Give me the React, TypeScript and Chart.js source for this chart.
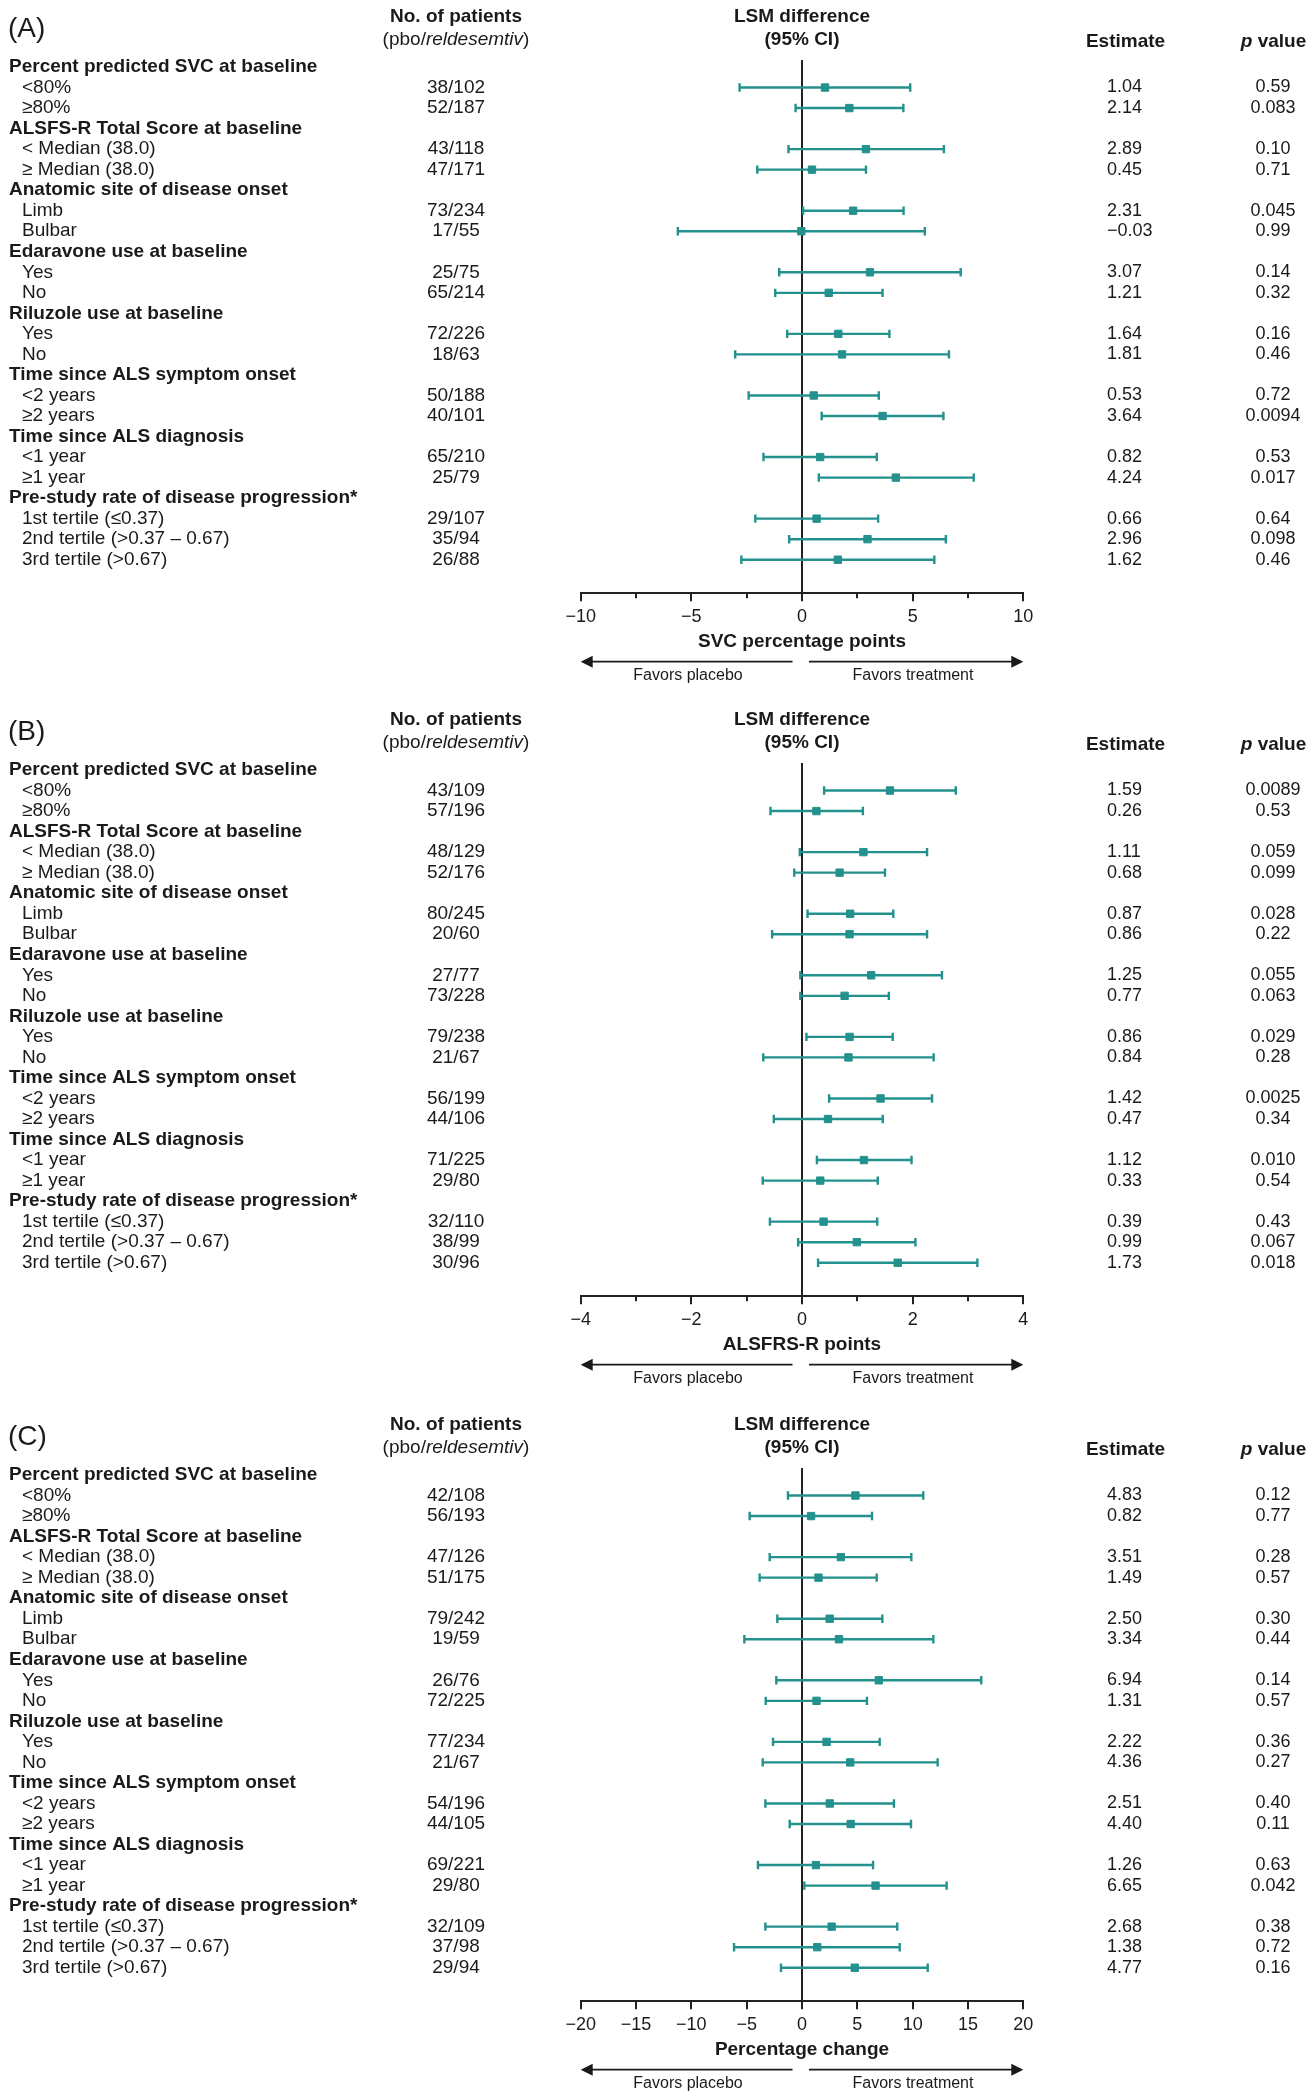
import React, { useEffect, useRef } from 'react';
import { Chart, registerables } from 'chart.js';

Chart.register(...registerables);

const FONT = "'Liberation Sans', Arial, Helvetica, sans-serif";
const TEXT = '#1a1a1a';
const TEAL = '#23918d';

// ---------- categories ----------
const groupTitles = [
  'Percent predicted SVC at baseline',
  'ALSFS-R Total Score at baseline',
  'Anatomic site of disease onset',
  'Edaravone use at baseline',
  'Riluzole use at baseline',
  'Time since ALS symptom onset',
  'Time since ALS diagnosis',
  'Pre-study rate of disease progression*',
];
const groupSizes = [2, 2, 2, 2, 2, 2, 2, 3];
const subgroupLabels = [
  '<80%', '≥80%',
  '< Median (38.0)', '≥ Median (38.0)',
  'Limb', 'Bulbar',
  'Yes', 'No',
  'Yes', 'No',
  '<2 years', '≥2 years',
  '<1 year', '≥1 year',
  '1st tertile (≤0.37)', '2nd tertile (>0.37 – 0.67)', '3rd tertile (>0.67)',
];

// ---------- panel A: SVC ----------
const patientsA = ['38/102', '52/187', '43/118', '47/171', '73/234', '17/55', '25/75', '65/214', '72/226', '18/63', '50/188', '40/101', '65/210', '25/79', '29/107', '35/94', '26/88'];
const estA = [1.04, 2.14, 2.89, 0.45, 2.31, -0.03, 3.07, 1.21, 1.64, 1.81, 0.53, 3.64, 0.82, 4.24, 0.66, 2.96, 1.62];
const loA = [-2.82, -0.29, -0.61, -2.02, 0.05, -5.61, -1.03, -1.21, -0.67, -3.02, -2.41, 0.89, -1.74, 0.76, -2.11, -0.58, -2.74];
const hiA = [4.89, 4.58, 6.41, 2.89, 4.59, 5.55, 7.17, 3.64, 3.95, 6.64, 3.47, 6.39, 3.38, 7.76, 3.44, 6.5, 5.98];
const pA = ['0.59', '0.083', '0.10', '0.71', '0.045', '0.99', '0.14', '0.32', '0.16', '0.46', '0.72', '0.0094', '0.53', '0.017', '0.64', '0.098', '0.46'];

// ---------- panel B: ALSFRS-R ----------
const patientsB = ['43/109', '57/196', '48/129', '52/176', '80/245', '20/60', '27/77', '73/228', '79/238', '21/67', '56/199', '44/106', '71/225', '29/80', '32/110', '38/99', '30/96'];
const estB = [1.59, 0.26, 1.11, 0.68, 0.87, 0.86, 1.25, 0.77, 0.86, 0.84, 1.42, 0.47, 1.12, 0.33, 0.39, 0.99, 1.73];
const loB = [0.4, -0.57, -0.04, -0.14, 0.1, -0.54, -0.03, -0.03, 0.08, -0.7, 0.49, -0.51, 0.27, -0.71, -0.58, -0.07, 0.29];
const hiB = [2.78, 1.1, 2.26, 1.5, 1.65, 2.26, 2.53, 1.57, 1.64, 2.38, 2.35, 1.46, 1.98, 1.37, 1.36, 2.05, 3.17];
const pB = ['0.0089', '0.53', '0.059', '0.099', '0.028', '0.22', '0.055', '0.063', '0.029', '0.28', '0.0025', '0.34', '0.010', '0.54', '0.43', '0.067', '0.018'];

// ---------- panel C: percentage change ----------
const patientsC = ['42/108', '56/193', '47/126', '51/175', '79/242', '19/59', '26/76', '72/225', '77/234', '21/67', '54/196', '44/105', '69/221', '29/80', '32/109', '37/98', '29/94'];
const estC = [4.83, 0.82, 3.51, 1.49, 2.5, 3.34, 6.94, 1.31, 2.22, 4.36, 2.51, 4.4, 1.26, 6.65, 2.68, 1.38, 4.77];
const loC = [-1.27, -4.73, -2.92, -3.83, -2.23, -5.21, -2.32, -3.28, -2.62, -3.55, -3.31, -1.11, -3.98, 0.21, -3.31, -6.14, -1.9];
const hiC = [10.96, 6.33, 9.88, 6.75, 7.26, 11.87, 16.2, 5.87, 7.02, 12.26, 8.31, 9.85, 6.42, 13.07, 8.61, 8.83, 11.36];
const pC = ['0.12', '0.77', '0.28', '0.57', '0.30', '0.44', '0.14', '0.57', '0.36', '0.27', '0.40', '0.11', '0.63', '0.042', '0.38', '0.72', '0.16'];

// ---------- axes ----------
const panelLetters = ['(A)', '(B)', '(C)'];
const axisTitles = ['SVC percentage points', 'ALSFRS-R points', 'Percentage change'];
const axisMins = [-10, -4, -20];
const axisMaxs = [10, 4, 20];
const majorSteps = [5, 2, 5];
const minorSteps = [2.5, 1, 5];

const panelPatients = [patientsA, patientsB, patientsC];
const panelEst = [estA, estB, estC];
const panelLo = [loA, loB, loC];
const panelHi = [hiA, hiB, hiC];
const panelP = [pA, pB, pC];

const panelTops = [0, 703, 1408];
const panelHeights = [703, 705, 692];

function buildRows() {
  const headerRows: number[] = [];
  const itemRows: number[] = [];
  let r = 0;
  groupSizes.forEach((n) => {
    headerRows.push(r++);
    for (let i = 0; i < n; i++) itemRows.push(r++);
  });
  return { headerRows, itemRows, total: r };
}

function fmtNum(v: number, digits?: number) {
  const s = digits === undefined ? String(Math.abs(v)) : Math.abs(v).toFixed(digits);
  return v < 0 ? '\u2212' + s : s;
}

function setFont(ctx: CanvasRenderingContext2D, size: number, weight = 'normal', style = 'normal') {
  ctx.font = `${style} ${weight} ${size}px ${FONT}`;
}

function drawText(
  ctx: CanvasRenderingContext2D,
  str: string,
  x: number,
  y: number,
  o: { size: number; weight?: string; style?: string; align?: CanvasTextAlign }
) {
  ctx.save();
  setFont(ctx, o.size, o.weight, o.style);
  ctx.fillStyle = TEXT;
  ctx.textBaseline = 'middle';
  ctx.textAlign = o.align || 'left';
  ctx.fillText(str, x, y);
  ctx.restore();
}

type Run = { t: string; weight?: string; style?: string };
function drawRuns(ctx: CanvasRenderingContext2D, runs: Run[], cx: number, y: number, size: number) {
  ctx.save();
  let total = 0;
  const widths = runs.map((r) => {
    setFont(ctx, size, r.weight, r.style);
    const w = ctx.measureText(r.t).width;
    total += w;
    return w;
  });
  let x = cx - total / 2;
  runs.forEach((r, i) => {
    drawText(ctx, r.t, x, y, { size, weight: r.weight, style: r.style, align: 'left' });
    x += widths[i];
  });
  ctx.restore();
}

function buildConfig(idx: number, height: number): any {
  const { headerRows, itemRows, total } = buildRows();
  const est = panelEst[idx];
  const lo = panelLo[idx];
  const hi = panelHi[idx];
  const major = majorSteps[idx];
  const isMajor = (v: number) => Math.abs(v / major - Math.round(v / major)) < 1e-6;
  const AXIS_BOTTOM = 593.3;
  const AXH = 40;
  const COL_N = 456;

  const overlay = {
    id: 'forestText',
    afterDraw(chart: any) {
      const ctx: CanvasRenderingContext2D = chart.ctx;
      const xs = chart.scales.x;
      const ys = chart.scales.y;
      const area = chart.chartArea;
      const x0 = xs.getPixelForValue(0);

      // minor ticks
      ctx.save();
      ctx.strokeStyle = '#222';
      ctx.lineWidth = 2;
      xs.ticks.forEach((t: any) => {
        if (!isMajor(t.value)) {
          const px = Math.round(xs.getPixelForValue(t.value));
          ctx.beginPath();
          ctx.moveTo(px, area.bottom);
          ctx.lineTo(px, area.bottom + 5);
          ctx.stroke();
        }
      });
      ctx.restore();

      // headers
      drawText(ctx, panelLetters[idx], 8, 29, { size: 28 });
      drawText(ctx, 'No. of patients', COL_N, 16.5, { size: 19, weight: 'bold', align: 'center' });
      drawRuns(ctx, [{ t: '(pbo/' }, { t: 'reldesemtiv', style: 'italic' }, { t: ')' }], COL_N, 40, 19);
      drawText(ctx, 'LSM difference', x0, 16.5, { size: 19, weight: 'bold', align: 'center' });
      drawText(ctx, '(95% CI)', x0, 40, { size: 19, weight: 'bold', align: 'center' });
      drawText(ctx, 'Estimate', 1125.5, 41.5, { size: 19, weight: 'bold', align: 'center' });
      drawRuns(ctx, [{ t: 'p', weight: 'bold', style: 'italic' }, { t: ' value', weight: 'bold' }], 1273.5, 41.5, 19);

      // group titles
      headerRows.forEach((r, g) => {
        drawText(ctx, groupTitles[g], 9, ys.getPixelForValue(r), { size: 19, weight: 'bold' });
      });
      // subgroup rows
      itemRows.forEach((r, i) => {
        const y = ys.getPixelForValue(r);
        drawText(ctx, subgroupLabels[i], 22, y, { size: 19 });
        drawText(ctx, panelPatients[idx][i], COL_N, y, { size: 19, align: 'center' });
        drawText(ctx, fmtNum(est[i], 2), 1107, y, { size: 18, align: 'left' });
        drawText(ctx, panelP[idx][i], 1273, y, { size: 18, align: 'center' });
      });

      // axis title
      drawText(ctx, axisTitles[idx], x0, area.bottom + 48.4, { size: 19, weight: 'bold', align: 'center' });

      // arrows
      const ay = area.bottom + 68.4;
      ctx.save();
      ctx.strokeStyle = '#1a1a1a';
      ctx.fillStyle = '#1a1a1a';
      ctx.lineWidth = 1.8;
      const head = 11;
      const hh = 6;
      ctx.beginPath();
      ctx.moveTo(area.left + head, ay);
      ctx.lineTo(x0 - 9.5, ay);
      ctx.moveTo(x0 + 7, ay);
      ctx.lineTo(area.right - head, ay);
      ctx.stroke();
      ctx.beginPath();
      ctx.moveTo(area.left, ay);
      ctx.lineTo(area.left + head + 1, ay - hh);
      ctx.lineTo(area.left + head + 1, ay + hh);
      ctx.closePath();
      ctx.fill();
      ctx.beginPath();
      ctx.moveTo(area.right, ay);
      ctx.lineTo(area.right - head - 1, ay - hh);
      ctx.lineTo(area.right - head - 1, ay + hh);
      ctx.closePath();
      ctx.fill();
      ctx.restore();

      drawText(ctx, 'Favors placebo', x0 - 114, area.bottom + 82.7, { size: 16, align: 'center' });
      drawText(ctx, 'Favors treatment', x0 + 111, area.bottom + 82.7, { size: 16, align: 'center' });
    },
  };

  const rowPitch = 20.53;
  const yMin = -(67 - 60) / rowPitch;
  const yMax = total - 1 + (AXIS_BOTTOM - (67 + rowPitch * (total - 1))) / rowPitch;

  const datasets: any[] = [
    {
      type: 'scatter',
      label: 'Estimate',
      data: est.map((v, i) => ({ x: v, y: itemRows[i] })),
      pointStyle: 'rect',
      pointRadius: 5.2,
      pointHoverRadius: 5.2,
      backgroundColor: TEAL,
      borderColor: TEAL,
      borderWidth: 1,
      order: 0,
    },
    ...lo.map((l, i) => ({
      type: 'line',
      label: 'CI ' + i,
      data: [
        { x: l, y: itemRows[i] },
        { x: hi[i], y: itemRows[i] },
      ],
      showLine: true,
      borderColor: TEAL,
      borderWidth: 2.4,
      fill: false,
      tension: 0,
      pointStyle: 'line',
      pointRotation: 90,
      pointRadius: 4.2,
      pointHoverRadius: 4.2,
      pointBorderColor: TEAL,
      pointBackgroundColor: TEAL,
      pointBorderWidth: 2.4,
      order: 1,
    })),
  ];

  return {
    type: 'scatter',
    data: { datasets },
    plugins: [overlay],
    options: {
      responsive: false,
      animation: false,
      events: [],
      layout: {
        padding: { left: 580.7, right: 1316 - 1023.3, top: 60, bottom: height - AXIS_BOTTOM - AXH },
      },
      plugins: { legend: { display: false }, tooltip: { enabled: false }, title: { display: false } },
      scales: {
        x: {
          type: 'linear',
          position: 'bottom',
          min: axisMins[idx],
          max: axisMaxs[idx],
          afterFit: (s: any) => {
            s.height = AXH;
          },
          ticks: {
            stepSize: minorSteps[idx],
            autoSkip: false,
            maxRotation: 0,
            minRotation: 0,
            padding: 5,
            color: TEXT,
            font: { family: FONT, size: 18 },
            callback: (v: any) => (isMajor(Number(v)) ? fmtNum(Number(v)) : ''),
          },
          grid: {
            drawOnChartArea: true,
            color: (c: any) => (c.tick && Math.abs(c.tick.value) < 1e-9 ? '#222' : 'rgba(0,0,0,0)'),
            lineWidth: 2,
            drawTicks: true,
            tickLength: 8,
            tickWidth: 2,
            tickColor: (c: any) => (c.tick && isMajor(c.tick.value) ? '#222' : 'rgba(0,0,0,0)'),
          },
          border: { display: true, color: '#222', width: 2 },
        },
        y: {
          type: 'linear',
          display: false,
          reverse: true,
          min: yMin,
          max: yMax,
        },
      },
    },
  };
}

function Panel({ idx }: { idx: number }) {
  const ref = useRef<HTMLCanvasElement>(null);
  const height = panelHeights[idx];
  useEffect(() => {
    const chart = new Chart(ref.current as HTMLCanvasElement, buildConfig(idx, height));
    return () => chart.destroy();
  }, [idx, height]);
  return (
    <canvas
      ref={ref}
      width={1316}
      height={height}
      style={{ position: 'absolute', left: 0, top: panelTops[idx], width: 1316, height }}
    />
  );
}

export default function App() {
  return (
    <div style={{ position: 'absolute', left: 0, top: 0, width: 1316, height: 2100, background: '#ffffff' }}>
      <Panel idx={0} />
      <Panel idx={1} />
      <Panel idx={2} />
    </div>
  );
}
